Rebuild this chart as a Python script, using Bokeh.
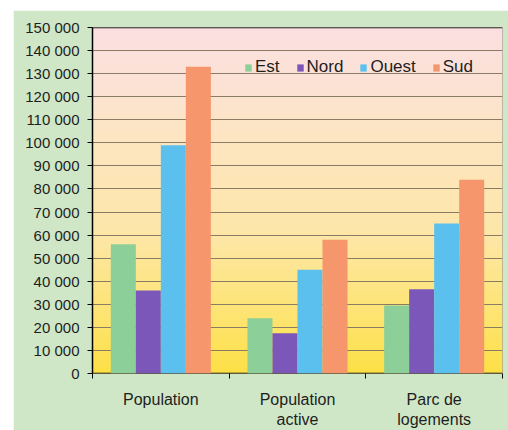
import numpy as np
from bokeh.plotting import figure
from bokeh.models import ColumnDataSource, Range1d, FixedTicker, Span
from bokeh.transform import dodge
from bokeh.embed import file_html
from bokeh.resources import INLINE

# ---- data ----
categories = ["Population", "Population\nactive", "Parc de\nlogements"]
series = ["Est", "Nord", "Ouest", "Sud"]
est = [56000, 24000, 29500]
nord = [36000, 17500, 36500]
ouest = [99000, 45000, 65000]
sud = [133000, 58000, 84000]
y_ticks = list(range(0, 150001, 10000))
y_max = 150000

colors = ["#8dcf98", "#7a57b8", "#5cc0ee", "#f5966c"]
values = [est, nord, ouest, sud]

font = "Liberation Sans"
text_col = "#1e1e1e"

x_centers = [i + 0.5 for i in range(len(categories))]
data = {"x": x_centers}
for s, v in zip(series, values):
    data[s] = v
src = ColumnDataSource(data)

p = figure(frame_width=410, frame_height=346, output_backend="svg", toolbar_location=None,
           x_range=Range1d(0, len(categories)), y_range=Range1d(0, y_max),
           min_border_left=79, min_border_top=17, min_border_right=6, min_border_bottom=57)
p.margin = (10, 0, 0, 13)
p.background_fill_color = "#fde9b8"
p.border_fill_color = "#cfe7c7"
p.outline_line_color = "#a8a898"
p.outline_line_width = 1

# gradient background (yellow bottom -> pink top)
n = 200
stops_t = [0.0, 0.15, 0.4, 0.7, 0.85, 1.0]
stops_c = np.array([[253, 224, 70], [253, 228, 110], [253, 231, 168], [253, 229, 196],
                    [252, 226, 214], [252, 224, 226]], dtype=float)
tt = np.linspace(0, 1, n)
img = np.zeros((n, 1), dtype=np.uint32)
view = img.view(dtype=np.uint8).reshape((n, 1, 4))
for ch in range(3):
    view[:, 0, ch] = np.interp(tt, stops_t, stops_c[:, ch]).astype(np.uint8)
view[:, 0, 3] = 255
p.image_rgba(image=[img], x=0, y=0, dw=len(categories), dh=y_max, level="image")

# x axis baseline (drawn under bars)
p.hspan(y=[0], line_color="black", line_width=1.5)

bar_w = 0.183
for i, (s, c) in enumerate(zip(series, colors)):
    off = (i - (len(series) - 1) / 2) * bar_w
    p.vbar(x=dodge("x", off), top=s, width=bar_w, source=src, color=c,
           line_color=None, legend_label=s)

p.add_layout(Span(location=y_max, dimension="width", line_color="black", line_width=1.5))

# grid
p.xgrid.grid_line_color = None
p.ygrid.ticker = FixedTicker(ticks=y_ticks)
p.ygrid.grid_line_color = "#8a7c64"
p.ygrid.grid_line_width = 1

# y axis
ya = p.yaxis[0]
ya.ticker = FixedTicker(ticks=y_ticks)
ya.major_label_overrides = {t: f"{t:,}".replace(",", " ") for t in y_ticks}
ya.axis_line_color = "black"
ya.axis_line_width = 1.5
ya.major_tick_line_color = "black"
ya.major_tick_out = 5
ya.major_tick_in = 0
ya.minor_tick_line_color = None
ya.major_label_text_font = font
ya.major_label_text_font_size = "15px"
ya.major_label_text_color = text_col
ya.major_label_standoff = 8

# x axis
xa = p.xaxis[0]
xa.ticker = FixedTicker(ticks=x_centers, minor_ticks=list(range(len(categories) + 1)))
xa.major_label_overrides = {x: c for x, c in zip(x_centers, categories)}
xa.axis_line_color = None
xa.major_tick_line_color = None
xa.major_tick_out = 0
xa.major_tick_in = 0
xa.minor_tick_line_color = "black"
xa.minor_tick_out = 5
xa.minor_tick_in = 0
xa.major_label_text_font = font
xa.major_label_text_font_size = "16px"
xa.major_label_text_color = text_col
xa.major_label_standoff = 12

# legend
lg = p.legend[0]
lg.orientation = "horizontal"
lg.location = (152, 296)
lg.padding = 0
lg.margin = 0
lg.spacing = 16
lg.glyph_width = 8
lg.glyph_height = 9
lg.label_standoff = 3
lg.label_height = 16
lg.label_text_font = font
lg.label_text_font_size = "17px"
lg.label_text_color = text_col
lg.background_fill_alpha = 0
lg.border_line_color = None

open("out.html", "w").write(file_html(p, INLINE))
